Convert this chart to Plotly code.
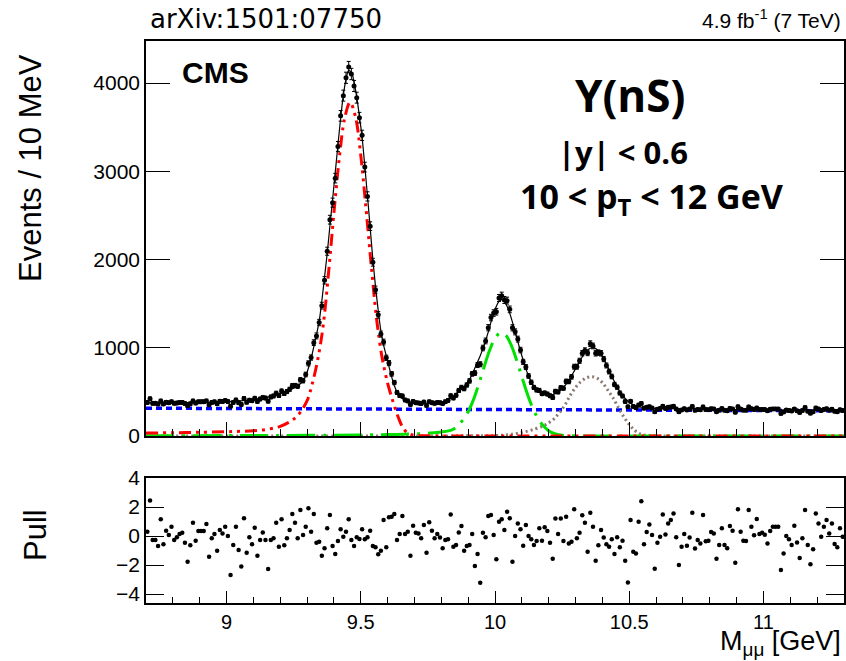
import numpy as np
import plotly.graph_objects as go

# ---------------- data ----------------
n_bins = 260
bin_centers = np.round(8.705 + 0.01 * np.arange(n_bins), 3)

counts = [
381,422,370,370,362,397,364,382,377,388,
371,374,380,381,368,344,366,397,373,387,
387,388,398,354,380,387,365,394,391,401,
390,338,381,408,378,357,426,382,406,400,
428,392,419,435,430,394,443,454,485,459,
510,481,503,529,570,572,564,636,627,697,
823,889,1058,1134,1286,1477,1764,2094,2451,2644,
2922,3280,3628,3857,4059,4180,4102,3966,3834,3607,
3407,3047,2715,2378,1969,1658,1373,1155,1065,886,
826,704,606,494,458,453,408,398,358,392,
378,374,367,384,347,388,378,370,379,378,
369,389,403,456,431,461,516,551,536,578,
624,704,713,804,813,997,1077,1227,1342,1393,
1408,1564,1590,1541,1534,1435,1226,1180,1098,974,
840,781,680,609,550,522,517,480,488,475,
456,436,506,500,547,542,619,617,670,785,
785,852,938,968,941,1046,1020,937,945,937,
872,799,730,674,584,553,487,453,390,331,
393,335,320,351,369,315,326,332,317,274,
304,311,337,313,325,329,336,307,274,295,
310,296,305,335,291,301,297,330,299,298,
309,307,276,292,311,291,287,313,307,268,
332,305,293,293,330,309,299,318,299,301,
299,287,302,307,306,306,255,273,294,290,
283,305,285,267,289,323,281,258,275,318,
306,289,301,309,293,304,280,276,298,288]

fit_total = [
375,375,375,375,375,375,375,375,376,376,
376,376,377,377,377,378,378,379,379,380,
380,381,382,382,383,384,385,386,387,388,
390,391,393,395,397,399,402,405,408,412,
416,420,425,430,436,442,449,457,465,475,
485,495,507,520,535,550,568,592,625,680,
770,880,1010,1150,1300,1530,1800,2070,2380,2680,
2990,3300,3600,3860,4040,4140,4120,4010,3840,3620,
3380,3060,2720,2360,2000,1690,1420,1190,1030,910,
790,670,570,500,455,425,405,392,385,378,
374,371,370,369,369,370,371,373,376,380,
386,395,408,425,447,475,510,535,560,595,
640,700,770,840,910,990,1080,1180,1290,1390,
1470,1525,1545,1525,1470,1390,1290,1180,1070,960,
860,760,680,615,565,530,505,487,475,468,
466,470,480,497,520,550,587,630,680,735,
790,845,895,940,975,995,1000,990,965,925,
875,815,750,680,615,555,505,460,425,395,
372,355,342,333,327,323,320,318,316,314,
312,312,311,311,310,310,309,309,309,308,
308,308,307,307,306,306,306,305,305,304,
304,304,303,303,302,302,302,301,301,300,
300,300,299,299,299,298,298,298,297,297,
297,296,296,296,295,295,295,294,294,294,
294,293,293,293,292,292,292,291,291,291,
291,290,290,290,290,289,289,289,289,289]

pulls = [
0.30,2.44,-0.28,-0.28,-0.69,1.15,-0.57,0.37,0.07,0.64,
-0.28,-0.09,0.14,0.23,-0.46,-1.77,-0.64,0.92,-0.32,0.34,
0.34,0.34,0.83,-1.43,-0.16,0.14,-1.01,0.41,0.18,0.64,
0.00,-2.69,-0.62,0.64,-0.97,-2.11,1.22,-1.15,-0.09,-0.57,
0.57,-1.36,-0.28,0.25,-0.28,-2.28,-0.28,-0.16,0.92,-0.74,
1.15,-0.64,-0.16,0.41,1.52,0.92,-0.16,1.79,0.07,0.64,
1.91,0.30,1.52,-0.46,-0.39,-1.36,-0.85,0.53,1.45,-0.69,
-1.24,-0.34,0.46,-0.05,0.30,1.15,-0.28,-0.69,-0.09,-0.21,
0.46,-0.23,-0.09,0.37,-0.69,-0.78,-1.26,-1.01,1.10,-0.78,
1.29,1.33,1.52,-0.28,0.14,1.38,0.14,0.30,-1.36,0.71,
0.23,0.18,-0.16,0.76,-1.15,0.94,0.37,-0.16,0.14,-0.11,
-0.85,-0.28,-0.23,1.49,-0.74,-0.62,0.25,0.69,-1.01,-0.69,
-0.62,0.14,-2.07,-1.24,-3.22,0.23,-0.09,1.38,1.45,0.07,
-1.61,0.99,1.15,0.41,1.68,1.22,-1.77,0.00,0.87,0.46,
-0.67,0.76,0.00,-0.23,-0.62,-0.34,0.53,-0.32,0.60,0.34,
-0.46,-1.56,1.20,0.14,1.20,-0.34,1.33,-0.51,-0.39,1.84,
-0.16,0.23,1.43,0.92,-1.08,1.61,0.64,-1.70,-0.64,0.41,
-0.11,-0.57,-0.74,-0.23,-1.24,-0.09,-0.78,-0.32,-1.70,-3.20,
1.10,-1.08,-1.20,0.99,2.39,-0.57,0.28,0.80,0.07,-2.25,
-0.46,-0.05,1.49,0.11,0.87,1.10,1.56,-0.09,-2.00,-0.74,
0.14,-0.67,-0.11,1.61,-0.87,-0.28,-0.51,1.45,-0.37,-0.32,
0.28,0.18,-1.56,-0.62,0.53,-0.62,-0.85,0.69,0.37,-1.84,
1.84,0.30,-0.32,-0.34,1.79,0.64,0.05,1.17,0.14,0.23,
0.09,-0.51,0.34,0.64,0.64,0.64,-2.34,-1.20,0.00,-0.23,
-0.62,0.71,-0.44,-1.52,-0.16,1.79,-0.62,-1.95,-0.92,1.56,
0.87,-0.05,0.64,1.10,0.18,0.87,-0.55,-0.78,0.53,-0.05]

# fit components
bkg_m = [8.70, 11.30]
bkg_v = [315, 285]

ups1_m = [8.70, 8.80, 8.90, 9.00, 9.05, 9.10, 9.15, 9.20, 9.24, 9.27, 9.30, 9.32,
          9.34, 9.36, 9.38, 9.40, 9.42, 9.44, 9.46, 9.48, 9.50, 9.52, 9.54, 9.56,
          9.58, 9.60, 9.62, 9.64, 9.66, 9.68, 9.70, 9.75, 9.80, 10.0, 10.5, 11.0, 11.3]
ups1_v = [34, 37, 42, 48, 53, 60, 75, 110, 170, 250, 400, 600,
          870, 1250, 1850, 2530, 3150, 3600, 3780, 3620, 3180, 2560, 1900, 1300,
          880, 600, 390, 210, 80, 25, 8, 2, 0, 0, 0, 0, 0]

ups2_m = [8.70, 9.00, 9.30, 9.50, 9.60, 9.70, 9.75, 9.80, 9.84, 9.86, 9.88, 9.90,
          9.92, 9.94, 9.96, 9.98, 10.00, 10.02, 10.04, 10.06, 10.08, 10.10, 10.12,
          10.14, 10.16, 10.18, 10.20, 10.22, 10.25, 10.30, 10.40, 11.30]
ups2_v = [3, 5, 8, 12, 16, 24, 32, 45, 70, 110, 180, 275,
          412, 592, 788, 971, 1107, 1168, 1142, 1032, 865, 670, 481,
          320, 200, 115, 60, 28, 9, 2, 0, 0]

ups3_m = [8.70, 9.50, 9.90, 10.00, 10.05, 10.10, 10.15, 10.18, 10.20, 10.22, 10.24,
          10.26, 10.28, 10.30, 10.32, 10.34, 10.36, 10.38, 10.40, 10.42, 10.44, 10.46,
          10.48, 10.50, 10.52, 10.54, 10.56, 10.60, 10.70, 11.30]
ups3_v = [0, 0, 2, 5, 15, 40, 80, 115, 150, 195, 265,
          350, 460, 550, 615, 658, 672, 655, 605, 520, 430, 320,
          215, 130, 65, 25, 8, 2, 0, 0]

x_ticks = [9, 9.5, 10, 10.5, 11]
y_ticks_top = [0, 1000, 2000, 3000, 4000]
y_ticks_pull = [-4, -2, 0, 2, 4]

# ---------------- figure ----------------
W, H = 846, 661
FONT = "Liberation Sans"

fig = go.Figure()

fig.add_trace(go.Scatter(x=bkg_m, y=bkg_v, mode="lines",
                         line=dict(color="rgb(0,0,255)", width=3.5, dash="6px,4px"),
                         xaxis="x", yaxis="y", hoverinfo="skip"))
fig.add_trace(go.Scatter(x=ups3_m, y=ups3_v, mode="lines", line_shape="spline",
                         line=dict(color="rgb(140,122,112)", width=3, dash="2px,3px"),
                         xaxis="x", yaxis="y", hoverinfo="skip"))
fig.add_trace(go.Scatter(x=ups2_m, y=ups2_v, mode="lines", line_shape="spline",
                         line=dict(color="rgb(0,225,0)", width=3, dash="28px,8px,3px,8px"),
                         xaxis="x", yaxis="y", hoverinfo="skip"))
fig.add_trace(go.Scatter(x=ups1_m, y=ups1_v, mode="lines", line_shape="spline",
                         line=dict(color="rgb(255,0,0)", width=3,
                                   dash="12px,5px,3px,5px,3px,5px"),
                         xaxis="x", yaxis="y", hoverinfo="skip"))
fig.add_trace(go.Scatter(x=bin_centers, y=fit_total, mode="lines", line_shape="spline",
                         line=dict(color="black", width=1.2),
                         xaxis="x", yaxis="y", hoverinfo="skip"))
fig.add_trace(go.Scatter(x=bin_centers, y=counts, mode="markers",
                         marker=dict(color="black", size=5),
                         error_y=dict(type="data", array=np.sqrt(np.array(counts)),
                                      color="black", thickness=1, width=2),
                         xaxis="x", yaxis="y"))
fig.add_trace(go.Scatter(x=bin_centers, y=pulls, mode="markers",
                         marker=dict(color="black", size=4.5),
                         xaxis="x2", yaxis="y2"))

xdom = [146 / W, 844 / W]
axis_common = dict(showline=True, linecolor="black", linewidth=1.5, showgrid=False,
                   zeroline=False, ticks="inside", tickcolor="black", tickwidth=1.2,
                   automargin=False)

fig.update_layout(
    width=W, height=H, margin=dict(l=0, r=0, t=0, b=0, pad=0, autoexpand=False),
    paper_bgcolor="white", plot_bgcolor="white", showlegend=False,
    font=dict(family=FONT, color="black"),
    xaxis=dict(domain=xdom, range=[8.7, 11.3], anchor="y", mirror=True,
               tickvals=x_ticks, ticklen=14, showticklabels=False,
               minor=dict(ticks="inside", ticklen=7, dtick=0.1, tick0=8.7,
                          tickcolor="black", tickwidth=1, showgrid=False),
               **axis_common),
    yaxis=dict(domain=[1 - 436 / H, 1 - 41 / H], range=[0, 4476], anchor="x",
               mirror="ticks", tickvals=y_ticks_top, ticklen=24,
               tickfont=dict(size=21, family=FONT), **axis_common),
    xaxis2=dict(domain=xdom, range=[8.7, 11.3], anchor="y2", mirror=True,
                tickvals=x_ticks, ticktext=[str(v) for v in x_ticks], ticklen=12,
                tickfont=dict(size=20, family=FONT),
                minor=dict(ticks="inside", ticklen=6, dtick=0.1, tick0=8.7,
                           tickcolor="black", tickwidth=1, showgrid=False),
                **axis_common),
    yaxis2=dict(domain=[1 - 603 / H, 1 - 478 / H], range=[-4.62, 4.0], anchor="x2",
                mirror="ticks", tickvals=y_ticks_pull, ticklen=18,
                tickfont=dict(size=21, family=FONT), **axis_common),
)

def px(x):
    return x / W

def py(y):
    return 1 - y / H

ann = [
    dict(text="arXiv:1501:07750", x=px(148), y=py(19), xanchor="left", yanchor="middle",
         font=dict(family="DejaVu Sans", size=26)),
    dict(text="4.9 fb<sup>-1</sup> (7 TeV)", x=px(843), y=py(19), xanchor="right",
         yanchor="middle", font=dict(family=FONT, size=21)),
    dict(text="<b>CMS</b>", x=px(180), y=py(73), xanchor="left", yanchor="middle",
         font=dict(family=FONT, size=30)),
    dict(text="<b>Υ(nS)</b>", x=px(630), y=py(95), xanchor="center", yanchor="middle",
         font=dict(family="Open Sans", size=44)),
    dict(text="<b>|y| &lt; 0.6</b>", x=px(623), y=py(152), xanchor="center",
         yanchor="middle", font=dict(family="Open Sans", size=31)),
    dict(text="<b>10 &lt; p<sub>T</sub> &lt; 12 GeV</b>", x=px(652), y=py(198),
         xanchor="center", yanchor="middle", font=dict(family="Open Sans", size=34)),
    dict(text="Events / 10 MeV", x=px(30), y=py(168), xanchor="center", yanchor="middle",
         textangle=-90, font=dict(family=FONT, size=31)),
    dict(text="Pull", x=px(35), y=py(535), xanchor="center", yanchor="middle",
         textangle=-90, font=dict(family=FONT, size=31)),
    dict(text="M<sub>μμ</sub> [GeV]", x=px(843), y=py(643), xanchor="right",
         yanchor="middle", font=dict(family=FONT, size=27)),
]
for a in ann:
    a.update(xref="paper", yref="paper", showarrow=False)
fig.update_layout(annotations=ann)

fig.write_html(
    "out.html",
    config={"displayModeBar": False},
    post_script="document.body.style.margin='0px';document.body.style.overflow='hidden';",
)
